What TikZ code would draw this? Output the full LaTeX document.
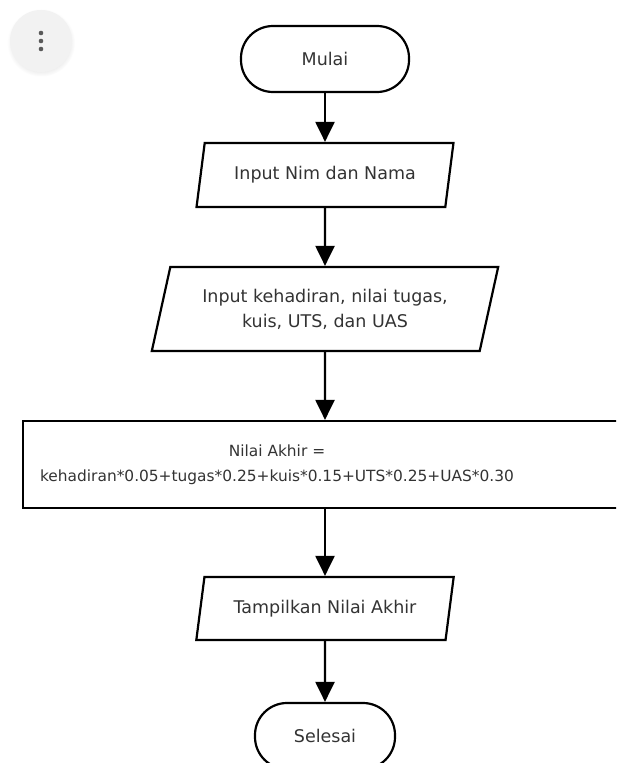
\documentclass[tikz,border=0pt]{standalone}
\usepackage{fontspec}
\setmainfont{DejaVu Sans}
\usepackage{tikz}
\usetikzlibrary{arrows.meta, shapes.geometric, shadows}

\begin{document}
\begin{tikzpicture}[
        x=1pt, y=-1pt,
        every node/.style={font=\fontsize{17.5}{25}\selectfont, text=black!80, align=center},
        terminal/.style={rectangle, draw, line width=2.2pt, rounded corners=32pt, minimum height=66pt, inner sep=0pt},
        io/.style={trapezium, trapezium left angle=70, trapezium right angle=110, trapezium stretches=true, draw, line width=2.2pt, inner sep=0pt},
        process/.style={rectangle, draw, line width=2.2pt, inner sep=0pt},
        arrow/.style={-{Triangle[length=20pt, width=19pt]}, line width=2.2pt}
    ]
    \useasboundingbox (0,0) rectangle (616,763);
    \clip (0,0) rectangle (616,763);

    % menu button
    \fill[black!5, circular drop shadow={shadow xshift=0pt, shadow yshift=-1.5pt, opacity=0.12}] (41,41) circle (31);
    \foreach \y in {33,41,49}
        \fill[black!65] (41,\y) circle (2.3);

    % flowchart
    \node[terminal, minimum width=168pt] (mulai) at (325,59) {Mulai};
    \node[io, minimum width=257pt, minimum height=64pt] (input1) at (325,175) {Input Nim dan Nama};
    \node[io, minimum width=347pt, minimum height=84pt] (input2) at (325,309) {Input kehadiran, nilai tugas,\\kuis, UTS, dan UAS};
    \node[process, minimum width=604pt, minimum height=87pt] (proses) at (325,464.5) {};
    \node[font=\fontsize{15.4}{25}\selectfont] (rumus) at (277,464.5) {Nilai Akhir =\\kehadiran*0.05+tugas*0.25+kuis*0.15+UTS*0.25+UAS*0.30};
    \node[io, minimum width=258pt, minimum height=63pt] (tampil) at (325,608.5) {Tampilkan Nilai Akhir};
    \node[terminal, minimum width=140pt] (selesai) at (325,736) {Selesai};

    \draw[arrow] (mulai) -- (input1);
    \draw[arrow] (input1) -- (input2);
    \draw[arrow] (input2) -- (proses);
    \draw[arrow] (proses) -- (tampil);
    \draw[arrow] (tampil) -- (selesai);

\end{tikzpicture}
\end{document}
